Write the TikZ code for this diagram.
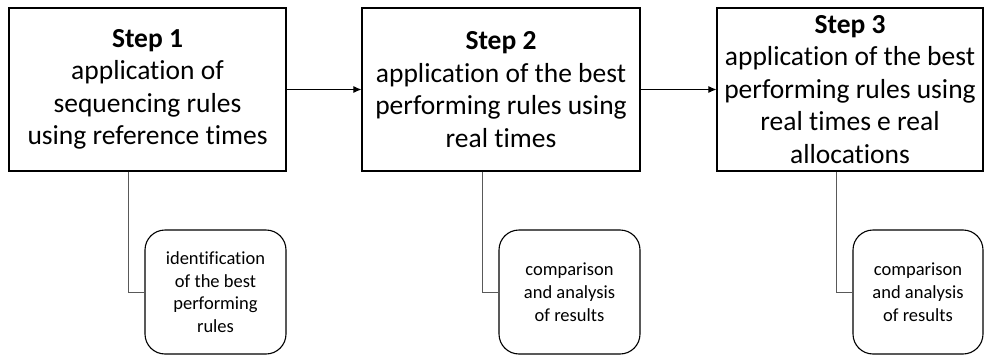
\documentclass[tikz,border=0pt]{standalone}
\usepackage{fontspec}
\setmainfont{Carlito}[Ligatures=NoCommon]
\usetikzlibrary{arrows.meta,positioning}

\tikzset{
    stepbox/.style={draw, line width=1.2pt, align=center, inner sep=0pt,
        font=\fontsize{27.5}{32.5}\selectfont},
    resultbox/.style={draw, line width=1.1pt, rounded corners=20pt, align=center,
        inner sep=0pt, font=\fontsize{18.5}{22.7}\selectfont},
    flow/.style={-{Latex[length=8pt,width=7pt]}, line width=0.8pt},
    link/.style={draw=black!65, line width=1pt}
}

\begin{document}
\begin{tikzpicture}[x=1pt,y=-1pt]
    % Frame
    \useasboundingbox (0,0) rectangle (985,356);

    % Steps
    \node[stepbox, minimum width=277pt, minimum height=163pt] (step1) at (147.5,89.5)
        {\textbf{Step 1}\\application of\\sequencing rules\\using reference times};
    \node[stepbox, minimum width=278pt, minimum height=163pt] (step2) at (501,89.5)
        {\textbf{Step 2}\\application of the best\\performing rules using\\real times};
    \node[stepbox, minimum width=266pt, minimum height=163pt] (step3) at (850,89.5)
        {\textbf{Step 3}\\application of the best\\performing rules using\\real times e real\\allocations};

    % Results
    \node[resultbox, minimum width=141pt, minimum height=124pt] (res1) at (215.5,292)
        {identification\\of the best\\performing\\rules};
    \node[resultbox, minimum width=141pt, minimum height=124pt] (res2) at (569.5,292)
        {comparison\\and analysis\\of results};
    \node[resultbox, minimum width=130pt, minimum height=124pt] (res3) at (918,292)
        {comparison\\and analysis\\of results};

    % Arrows between steps
    \draw[flow] (step1.east) -- (step2.west);
    \draw[flow] (step2.east) -- (step3.west);

    % Links to results
    \draw[link] ([xshift=120pt]step1.south west) |- (res1.west);
    \draw[link] ([xshift=121pt]step2.south west) |- (res2.west);
    \draw[link] ([xshift=120pt]step3.south west) |- (res3.west);
\end{tikzpicture}
\end{document}
